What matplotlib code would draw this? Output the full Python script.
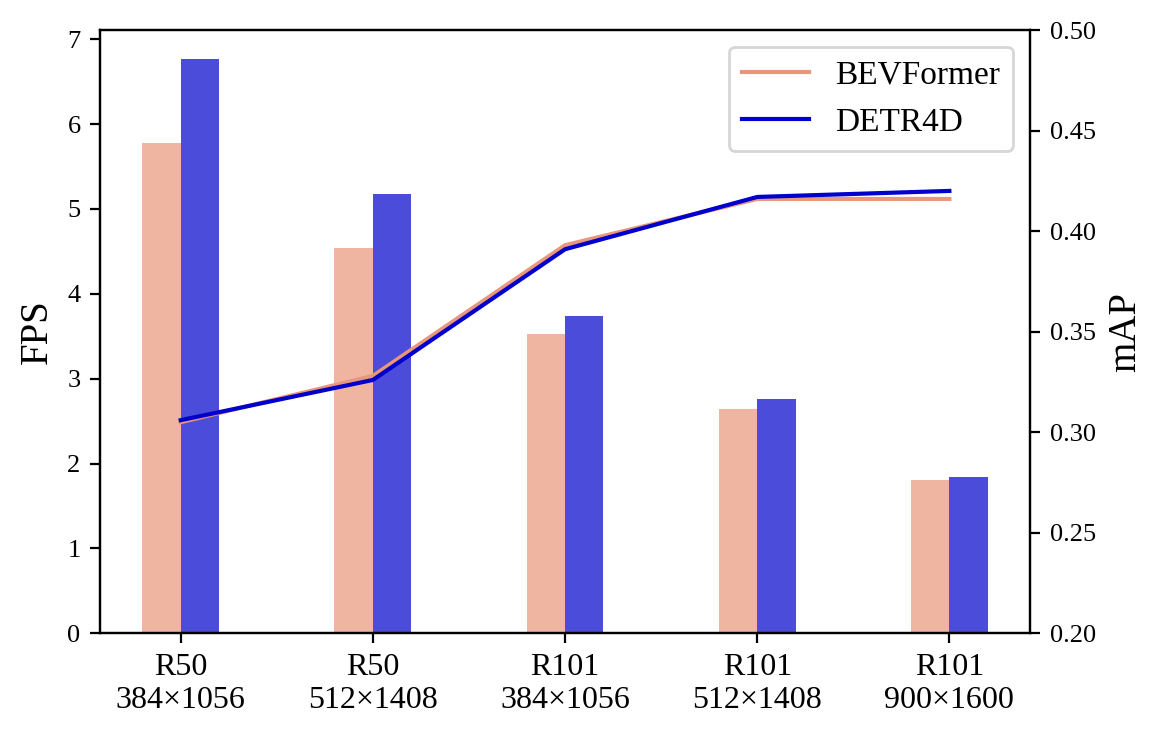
import matplotlib.pyplot as plt
import numpy as np

plt.rcParams["font.family"] = ["Liberation Serif", "DejaVu Serif"]

# ---------------------------------------------------------------------------
# Data
# ---------------------------------------------------------------------------
configs = ["R50\n384×1056", "R50\n512×1408", "R101\n384×1056",
           "R101\n512×1408", "R101\n900×1600"]
fps_bevformer = [5.78, 4.54, 3.53, 2.64, 1.81]
fps_detr4d = [6.77, 5.18, 3.74, 2.76, 1.84]
map_bevformer = [0.305, 0.328, 0.393, 0.416, 0.416]
map_detr4d = [0.306, 0.326, 0.391, 0.417, 0.420]

x = np.arange(len(configs))
width = 0.2

fig, ax = plt.subplots(figsize=(5.815, 3.69), dpi=200)
fig.subplots_adjust(left=0.086, right=0.8857, top=0.9593, bottom=0.1418)

ax.bar(x - width / 2, fps_bevformer, width, color="darksalmon", alpha=0.7)
ax.bar(x + width / 2, fps_detr4d, width, color="mediumblue", alpha=0.7)
ax.set_ylabel("FPS", fontsize=14)
ax.set_xticks(x)
ax.set_xticklabels(configs, fontsize=11.5)
ax.tick_params(axis="y", labelsize=9.5)

ax2 = ax.twinx()
ax2.plot(x, map_bevformer, color="darksalmon", lw=1.5, label="BEVFormer")
ax2.plot(x, map_detr4d, color="mediumblue", lw=1.5, label="DETR4D")
ax2.set_ylim(0.20, 0.50)
ax2.set_ylabel("mAP", fontsize=14)
ax2.tick_params(axis="y", labelsize=9.5)
ax2.legend(loc="upper right", fontsize=12)

fig.savefig("out.png", dpi=200)
